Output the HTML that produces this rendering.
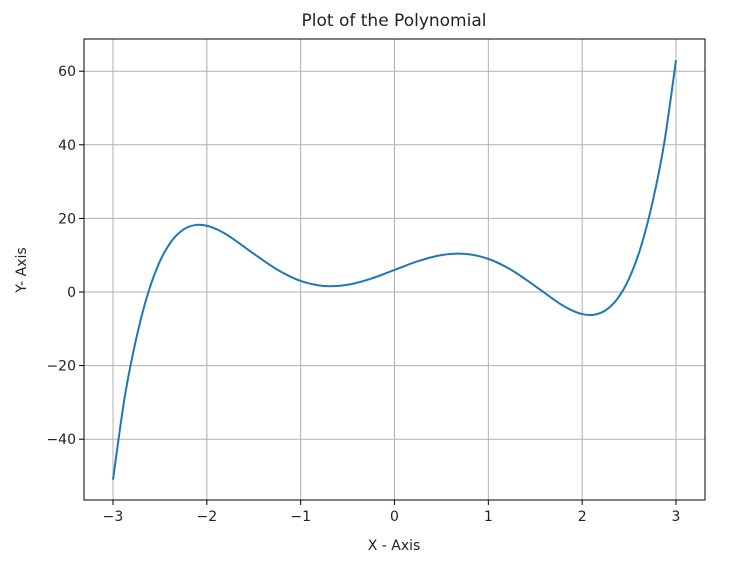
<!DOCTYPE html>
<html><head><meta charset="utf-8"><style>
html,body{margin:0;padding:0;background:#fff;}
svg text{font-family:"DejaVu Sans","Liberation Sans",sans-serif;fill:#222;}
</style></head><body>
<svg id="chart" width="730" height="559">
<text x="394" y="26" font-size="17" text-anchor="middle">Plot of the Polynomial</text>
<text x="394" y="550" font-size="14" text-anchor="middle">X - Axis</text>
<text x="26" y="270" font-size="14" text-anchor="middle" transform="rotate(-90 26 270)">Y- Axis</text>
<g id="grid"></g><g id="ticks"></g><g id="series"></g>
<rect x="84" y="39" width="621" height="461" fill="none" stroke="#000" stroke-width="1"/>
</svg>
<script>
const xs = [-3,-2.875,-2.75,-2.625,-2.5,-2.375,-2.25,-2.125,-2,-1.875,-1.75,-1.5,-1.25,-1,-0.75,-0.5,-0.25,0,0.25,0.5,0.75,1,1.25,1.5,1.75,1.875,2,2.125,2.25,2.375,2.5,2.625,2.75,2.875,3];
const ys = [-51,-28.55,-12.4,-0.19,8.34,13.86,16.96,18.19,18,16.81,14.97,10.41,6.08,3,1.64,1.97,3.62,6,8.38,10.03,10.36,9,5.92,1.59,-2.97,-4.81,-6,-6.19,-4.96,-1.86,3.66,12.19,24.4,40.55,63];
const xTicks = [-3,-2,-1,0,1,2,3];
const xTickLabels = ["\u22123","\u22122","\u22121","0","1","2","3"];
const yTicks = [-40,-20,0,20,40,60];
const yTickLabels = ["\u221240","\u221220","0","20","40","60"];
const NS="http://www.w3.org/2000/svg";
const L=84,R=705,T=39,B=500;
function sx(v){return 113+(v+3)*(676-113)/6;}
function sy(v){return 292-v*(439-71)/100;}
function mk(tag,attrs,parent){const e=document.createElementNS(NS,tag);for(const k in attrs)e.setAttribute(k,attrs[k]);document.getElementById(parent).appendChild(e);return e;}
xTicks.forEach((t,i)=>{
  const g=mk('line',{x1:sx(t),x2:sx(t),y1:T,y2:B,stroke:'#b0b0b0','stroke-width':1},'grid');
  
  
  const tk=mk('line',{x1:sx(t),x2:sx(t),y1:B,y2:B+5,stroke:'#000'},'ticks');
  
  
  const lb=mk('text',{x:sx(t),y:B+21,'font-size':14,'text-anchor':'middle'},'ticks');
  lb.textContent=xTickLabels[i];
  
  
});
yTicks.forEach((t,i)=>{
  const g=mk('line',{x1:L,x2:R,y1:sy(t),y2:sy(t),stroke:'#b0b0b0','stroke-width':1},'grid');
  
  
  const tk=mk('line',{x1:L-5,x2:L,y1:sy(t),y2:sy(t),stroke:'#000'},'ticks');
  
  
  const lb=mk('text',{x:L-8,y:sy(t)+5,'font-size':14,'text-anchor':'end'},'ticks');
  lb.textContent=yTickLabels[i];
  
  
});
const P=xs.map((x,i)=>[sx(x),sy(ys[i])]);
let d='M'+P[0][0]+','+P[0][1];
for(let i=0;i<P.length-1;i++){
  const p0=P[Math.max(0,i-1)],p1=P[i],p2=P[i+1],p3=P[Math.min(P.length-1,i+2)];
  const c1=[p1[0]+(p2[0]-p0[0])/6,p1[1]+(p2[1]-p0[1])/6];
  const c2=[p2[0]-(p3[0]-p1[0])/6,p2[1]-(p3[1]-p1[1])/6];
  d+=' C'+c1[0]+','+c1[1]+' '+c2[0]+','+c2[1]+' '+p2[0]+','+p2[1];
}
const line=mk('path',{d:d,fill:'none',stroke:'#1f77b4','stroke-width':2},'series');


</script>
</body></html>
